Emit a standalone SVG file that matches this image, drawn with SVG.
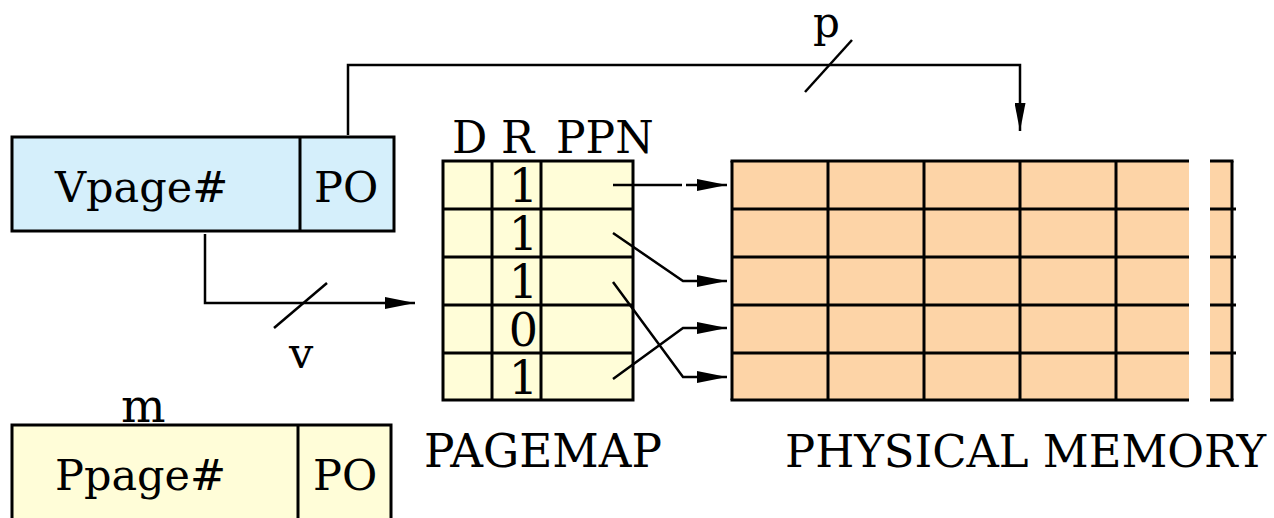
<svg xmlns="http://www.w3.org/2000/svg" width="1274" height="518" viewBox="0 0 1274 518">
<style>
.t{font-family:"DejaVu Serif","Liberation Serif",serif;fill:#000}
.bx{stroke:#000;stroke-width:3}
.ln{stroke:#000;stroke-width:2.5;fill:none}
</style>
<defs>
<marker id="ah" markerWidth="30" markerHeight="12" refX="30" refY="6" orient="auto" markerUnits="userSpaceOnUse">
<path d="M0,0 L30,6 L0,12 Z" fill="#000"/>
</marker>
<marker id="ahv" markerWidth="28" markerHeight="11" refX="28" refY="5.5" orient="auto" markerUnits="userSpaceOnUse">
<path d="M0,0 L28,5.5 L0,11 Z" fill="#000"/>
</marker>
</defs>
<rect width="1274" height="518" fill="#fff"/>

<g id="vaddr">
<rect class="bx" x="12" y="137" width="382" height="94" fill="#d5effb"/>
<line class="bx" x1="300" y1="137" x2="300" y2="231"/>
<text class="t" x="55" y="202" font-size="43">Vpage#</text>
<text class="t" x="314" y="202" font-size="43">PO</text>
</g>

<g id="paddr">
<rect class="bx" x="12" y="425" width="379" height="100" fill="#fffdd8"/>
<line class="bx" x1="298" y1="425" x2="298" y2="525"/>
<text class="t" x="55" y="490" font-size="43">Ppage#</text>
<text class="t" x="313" y="490" font-size="43">PO</text>
<text class="t" x="121" y="422" font-size="47">m</text>
</g>

<g id="pagemap">
<rect class="bx" x="443" y="161" width="190" height="239" fill="#fffdd8"/>
<line class="bx" x1="492" y1="161" x2="492" y2="400"/>
<line class="bx" x1="541" y1="161" x2="541" y2="400"/>
<line class="bx" x1="443" y1="209" x2="633" y2="209"/>
<line class="bx" x1="443" y1="257" x2="633" y2="257"/>
<line class="bx" x1="443" y1="305" x2="633" y2="305"/>
<line class="bx" x1="443" y1="353" x2="633" y2="353"/>
<text class="t" x="452" y="153" font-size="44">D</text>
<text class="t" x="501" y="153" font-size="44">R</text>
<text class="t" x="556" y="153" font-size="44">PPN</text>
<g font-size="46" text-anchor="end">
<text class="t" x="538" y="202">1</text>
<text class="t" x="538" y="250">1</text>
<text class="t" x="538" y="298">1</text>
<text class="t" x="538" y="346">0</text>
<text class="t" x="538" y="394">1</text>
</g>
<text class="t" x="424" y="467" font-size="46" textLength="238" lengthAdjust="spacingAndGlyphs">PAGEMAP</text>
</g>

<g id="memory">
<rect x="732" y="161" width="457" height="239" fill="#fdd4a7"/>
<rect x="1210" y="161" width="22" height="239" fill="#fdd4a7"/>
<g class="bx">
<line x1="730.5" y1="161" x2="1189" y2="161"/>
<line x1="730.5" y1="400" x2="1189" y2="400"/>
<line x1="1210" y1="161" x2="1233.5" y2="161"/>
<line x1="1210" y1="400" x2="1233.5" y2="400"/>
<line x1="732" y1="209" x2="1189" y2="209"/>
<line x1="732" y1="257" x2="1189" y2="257"/>
<line x1="732" y1="305" x2="1189" y2="305"/>
<line x1="732" y1="353" x2="1189" y2="353"/>
<line x1="1210" y1="209" x2="1236" y2="209"/>
<line x1="1210" y1="257" x2="1236" y2="257"/>
<line x1="1210" y1="305" x2="1236" y2="305"/>
<line x1="1210" y1="353" x2="1236" y2="353"/>
<line x1="732" y1="161" x2="732" y2="400"/>
<line x1="828" y1="161" x2="828" y2="400"/>
<line x1="924" y1="161" x2="924" y2="400"/>
<line x1="1020" y1="161" x2="1020" y2="400"/>
<line x1="1116" y1="161" x2="1116" y2="400"/>
<line x1="1232" y1="161" x2="1232" y2="400"/>
</g>
<text class="t" x="785" y="467" font-size="45" textLength="481" lengthAdjust="spacingAndGlyphs">PHYSICAL MEMORY</text>
</g>

<g id="connectors">
<polyline class="ln" points="205,234 205,303 415,303" marker-end="url(#ah)"/>
<line class="ln" x1="274" y1="328" x2="327" y2="283"/>
<text class="t" x="289" y="368" font-size="43">v</text>
<polyline class="ln" points="348,135 348,65 1020,65 1020,131" marker-end="url(#ahv)"/>
<line class="ln" x1="805" y1="92" x2="852" y2="40"/>
<text class="t" x="813" y="37" font-size="42">p</text>
<line class="ln" x1="613" y1="185" x2="682" y2="185"/>
<line class="ln" x1="686" y1="185" x2="727" y2="185" marker-end="url(#ah)"/>
<polyline class="ln" points="613,233 683,281 727,281" marker-end="url(#ah)"/>
<polyline class="ln" points="613,282 683,377 727,377" marker-end="url(#ah)"/>
<polyline class="ln" points="613,379 683,328 727,328" marker-end="url(#ah)"/>
</g>
</svg>
